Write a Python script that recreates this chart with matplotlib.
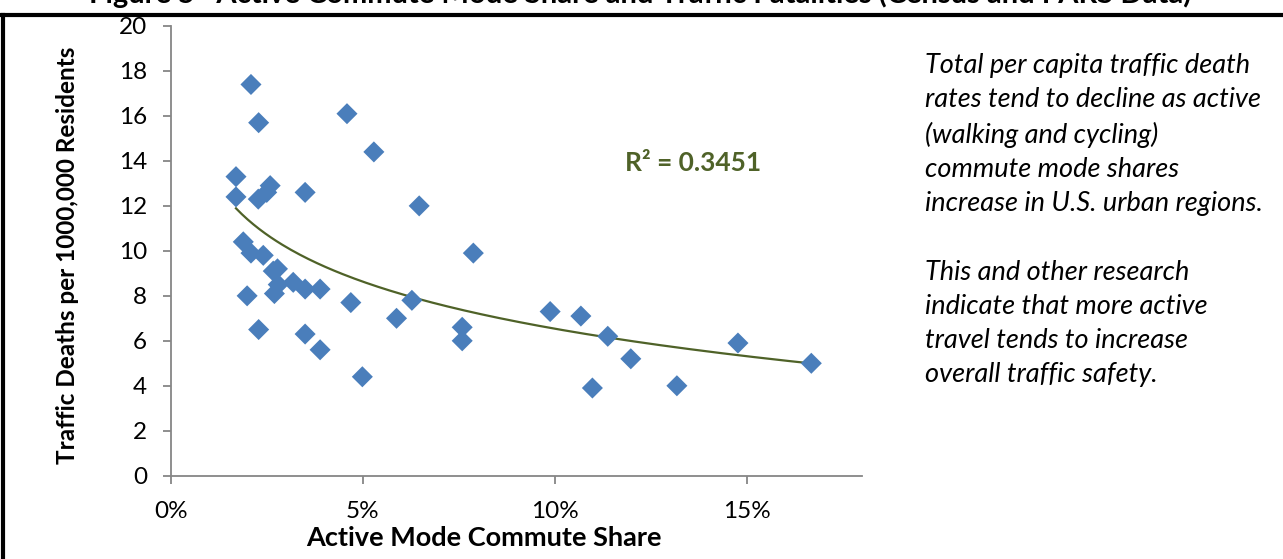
import numpy as np
import matplotlib
matplotlib.use("Agg")
import matplotlib.pyplot as plt
from matplotlib.lines import Line2D

plt.rcParams['font.family'] = ['Lato', 'DejaVu Sans']

# active mode commute share (%) and traffic deaths per 100,000 residents
share = [2.09, 2.29, 4.59, 5.29, 1.70, 1.70, 2.59, 2.50, 2.28, 3.50,
         1.89, 2.09, 2.41, 2.78, 2.67, 2.80, 3.19, 3.50, 3.89, 2.70,
         1.99, 4.69, 2.29, 3.50, 3.89, 6.47, 7.88, 6.28, 5.88, 7.59,
         7.59, 4.99, 9.88, 10.68, 11.38, 11.98, 10.98, 13.18, 14.77, 16.68]
deaths = [17.4, 15.7, 16.1, 14.4, 13.3, 12.4, 12.9, 12.6, 12.3, 12.6,
          10.4, 9.9, 9.8, 9.2, 9.1, 8.5, 8.6, 8.3, 8.3, 8.1,
          8.0, 7.7, 6.5, 6.3, 5.6, 12.0, 9.9, 7.8, 7.0, 6.6,
          6.0, 4.4, 7.3, 7.1, 6.2, 5.2, 3.9, 4.0, 5.9, 5.0]
x_ticks = [0, 5, 10, 15]
y_ticks = [0, 2, 4, 6, 8, 10, 12, 14, 16, 18, 20]
r2_label = "R² = 0.3451"
title = "Figure 5   Active Commute Mode Share and Traffic Fatalities (Census and FARS Data)"
note = ("Total per capita traffic death\n"
        "rates tend to decline as active\n"
        "(walking and cycling)\n"
        "commute mode shares\n"
        "increase in U.S. urban regions.\n"
        "\n"
        "This and other research\n"
        "indicate that more active\n"
        "travel tends to increase\n"
        "overall traffic safety.")

W, H = 1283, 559
fig = plt.figure(figsize=(W / 100, H / 100), dpi=100)
ax = fig.add_axes([170.7 / W, 1 - 475.7 / H, (862 - 170.7) / W, (475.7 - 26) / H])

blue = '#4A7EBB'
green = '#4F6228'
grey = '#868686'

ax.scatter(share, deaths, marker='D', s=115, color=blue, edgecolors='none', zorder=3)

# logarithmic trend line
sx = np.array(share)
coef = np.polyfit(np.log(sx), np.array(deaths), 1)
xs = np.linspace(sx.min(), sx.max(), 200)
ax.plot(xs, coef[0] * np.log(xs) + coef[1], color=green, lw=1.6, zorder=2)

ax.set_xlim(0, 18)
ax.set_ylim(0, 20)
ax.set_xticks(x_ticks)
ax.set_xticklabels([f"{t}%" for t in x_ticks])
ax.set_yticks(y_ticks)
for s in ['top', 'right']:
    ax.spines[s].set_visible(False)
for s in ['left', 'bottom']:
    ax.spines[s].set_color(grey)
    ax.spines[s].set_linewidth(1.3)
ax.tick_params(axis='both', colors=grey, length=6, width=1.3, labelsize=17.5, labelcolor='black')
ax.tick_params(axis='x', pad=12)
ax.tick_params(axis='y', pad=11)

ax.set_xlabel("Active Mode Commute Share", fontsize=19.5, fontweight='bold')
ax.xaxis.set_label_coords(0.453, -0.1385)
ax.xaxis.label.set_va('center')
ax.set_ylabel("Traffic Deaths per 1000,000 Residents", fontsize=17.5, fontweight='bold')
ax.yaxis.set_label_coords(-0.1486, 0.49)
ax.yaxis.label.set_va('center')

fig.text(693 / W, 1 - 163 / H, r2_label, color=green, fontsize=19, fontweight='bold',
         ha='center', va='center')

fig.text(925 / W, 1 - 53 / H, note, fontsize=19.5, style='italic', ha='left', va='top',
         linespacing=1.46)

# caption of the figure, cut off above the chart frame
fig.text(640 / W, 1 - 3.5 / H, title, fontsize=21, fontweight='bold', ha='center', va='baseline')

# chart frame
fig.add_artist(Line2D([0, 1], [1 - 15 / H, 1 - 15 / H], transform=fig.transFigure, color='black', lw=3))
fig.add_artist(Line2D([2.5 / W, 2.5 / W], [0, 1 - 15 / H], transform=fig.transFigure, color='black', lw=3))

fig.savefig("out.png", dpi=100)
